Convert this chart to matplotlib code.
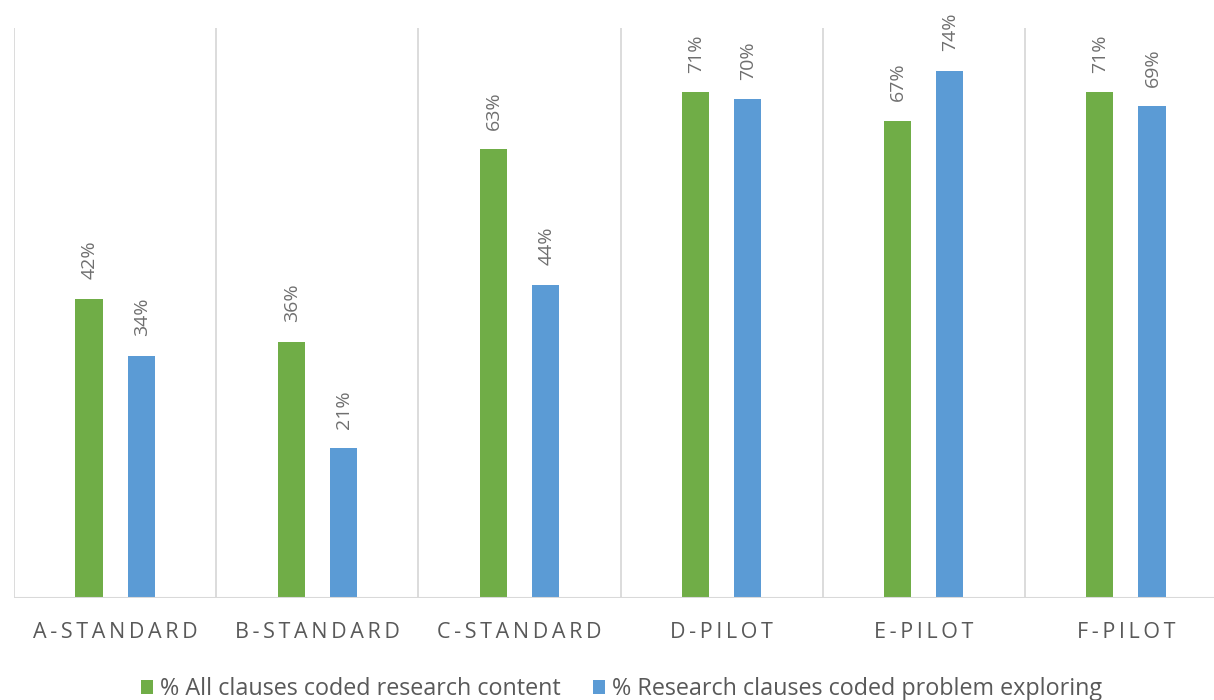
import numpy as np
import matplotlib.pyplot as plt
from matplotlib.patches import Patch

plt.rcParams['font.family'] = ['Open Sans', 'DejaVu Sans']

# sites and the two measured shares per site
sites = ['A-STANDARD', 'B-STANDARD', 'C-STANDARD', 'D-PILOT', 'E-PILOT', 'F-PILOT']
all_clauses = [42, 36, 63, 71, 67, 71]
research_clauses = [34, 21, 44, 70, 74, 69]
series_names = ['% All clauses coded research content',
                '% Research clauses coded problem exploring']

green = '#70AD47'
blue = '#5B9BD5'
text_grey = '#595959'
label_grey = '#6F6F6F'
line_grey = '#D9D9D9'

fig = plt.figure(figsize=(12.14, 7.0), dpi=100)
ax = fig.add_axes([14 / 1214, 102 / 700, 1213 / 1214, 570 / 700])

x = np.arange(len(sites))
w = 0.134
off = 0.129
b1 = ax.bar(x - off, all_clauses, w, color=green, zorder=3)
b2 = ax.bar(x + off, research_clauses, w, color=blue, zorder=3)

for bars, vals in ((b1, all_clauses), (b2, research_clauses)):
    for rect, v in zip(bars, vals):
        ax.annotate(f'{v}%', (rect.get_x() + rect.get_width() / 2, rect.get_height()),
                    xytext=(0.5, 14), textcoords='offset points', rotation=90,
                    ha='center', va='bottom', fontsize=14, color=label_grey)

ax.set_xlim(-0.5, len(sites) - 0.5)
ax.set_ylim(0, 80)

# group separators
for sep in np.arange(-0.5, len(sites), 1.0):
    ax.axvline(sep, color=line_grey, lw=1.3, zorder=1)

for s in ax.spines.values():
    s.set_visible(False)
ax.axhline(0, color=line_grey, lw=1.5, zorder=4)

# letter-spaced category names
ax.set_yticks([])
ax.set_xticks(x)
ax.set_xticklabels(['\u2009'.join(s) for s in sites], fontsize=15.5, color=text_grey)
ax.tick_params(axis='x', length=0, pad=17)

handles = [Patch(facecolor=green), Patch(facecolor=blue)]
fig.legend(handles, series_names, loc='center', bbox_to_anchor=(0.512, 11 / 700),
           ncol=2, frameon=False, fontsize=16.8, handlelength=0.55, handleheight=0.55,
           handletextpad=0.3, columnspacing=1.35, labelcolor=text_grey)

fig.savefig('out.png', dpi=100)
